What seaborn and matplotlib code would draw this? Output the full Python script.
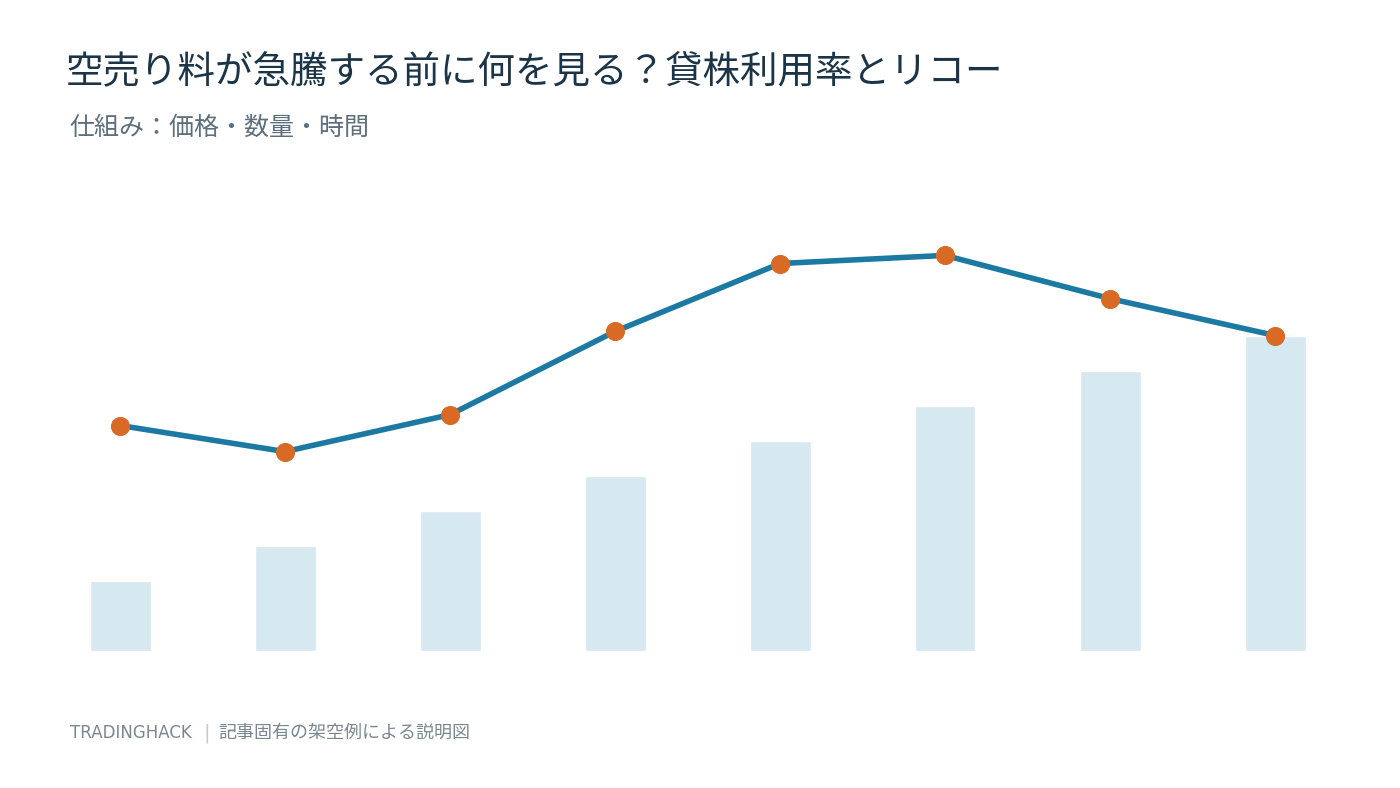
import matplotlib
matplotlib.use("Agg")
import matplotlib.pyplot as plt
import seaborn as sns
import pandas as pd

# --- data ---
days = ["D1", "D2", "D3", "D4", "D5", "D6", "D7", "D8"]
borrow_fee = [2, 3, 4, 5, 6, 7, 8, 9]              # bars
utilization = [50, 44.2, 52.4, 70.9, 86, 87.8, 78.2, 70]  # line (%)

sns.set_theme(style="white")
plt.rcParams["font.family"] = ["Noto Sans CJK JP", "DejaVu Sans"]

df = pd.DataFrame({"day": days, "fee": borrow_fee, "util": utilization,
                   "pos": range(len(days))})

fig = plt.figure(figsize=(14, 7.88), dpi=100)
# axes: x from 37.5 to 1357.5 px, y from 200 to 650 px
ax = fig.add_axes([37.5 / 1400, (788 - 650.5) / 788, 1320 / 1400, 450 / 788])

sns.barplot(data=df, x="day", y="fee", color="#d6e8f0", saturation=1,
            width=61 / 165, ax=ax)
ax.set_xlim(-0.5, 7.5)
ax.set_ylim(0, 450 / 35)

ax2 = ax.twinx()
sns.lineplot(data=df, x="pos", y="util", color="#1b79a2", linewidth=4,
             marker="o", markersize=13, markerfacecolor="#d96a26",
             markeredgecolor="#d96a26", ax=ax2)
ax2.set_ylim(0, 100)
ax2.set_xlim(-0.5, 7.5)

for a in (ax, ax2):
    a.set_axis_off()

fig.text(66 / 1400, 1 - 72 / 788, "空売り料が急騰する前に何を見る？貸株利用率とリコー",
         fontsize=27, color="#1b3447", va="center", ha="left")
fig.text(69 / 1400, 1 - 128 / 788, "仕組み：価格・数量・時間",
         fontsize=18, color="#5d6f7c", va="center", ha="left")
fig.text(70 / 1400, 1 - 733 / 788, "TRADINGHACK", fontsize=12,
         family=["DejaVu Sans"], color="#7a8790", va="center", ha="left")
fig.text(207 / 1400, 1 - 733 / 788, "|", fontsize=14,
         family=["DejaVu Sans"], color="#c3cbd0", va="center", ha="center")
fig.text(218 / 1400, 1 - 733 / 788, "記事固有の架空例による説明図", fontsize=13,
         color="#7a8790", va="center", ha="left")

fig.savefig("out.png", dpi=100, facecolor="white")
